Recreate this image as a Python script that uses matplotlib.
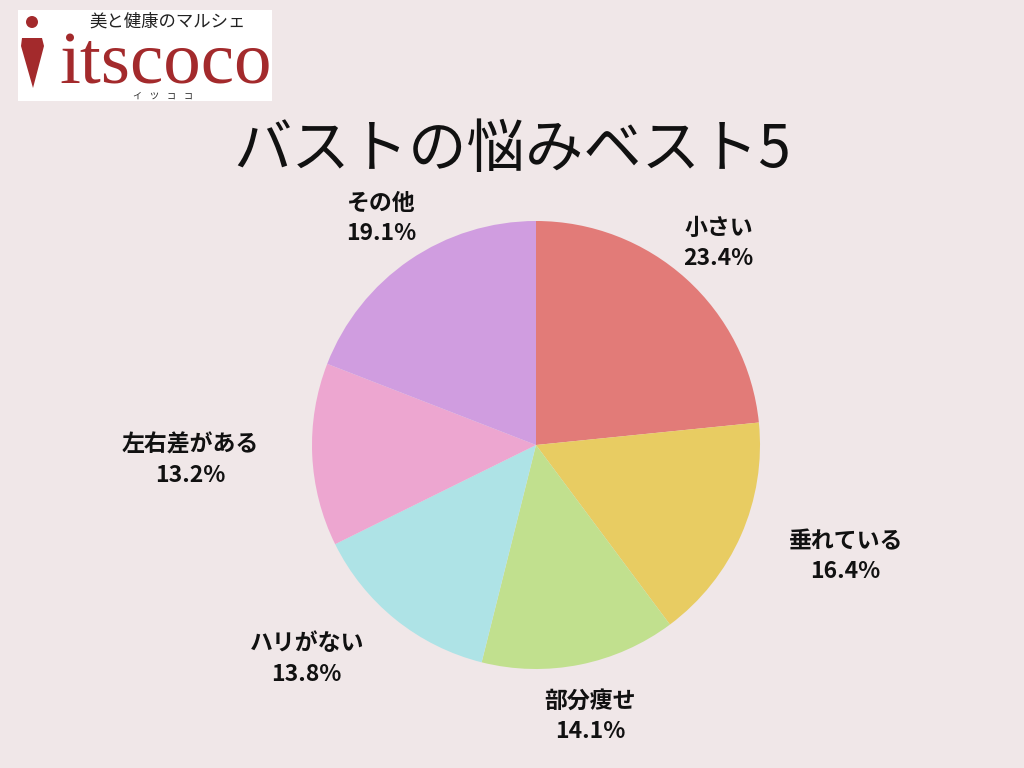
import matplotlib
matplotlib.use("Agg")
import numpy as np
import matplotlib.pyplot as plt
from matplotlib.patches import Rectangle, Ellipse, Polygon

plt.rcParams['font.family'] = ['Noto Sans CJK JP', 'DejaVu Sans']

# Data
labels = ["小さい", "垂れている", "部分痩せ", "ハリがない", "左右差がある", "その他"]
values = [23.4, 16.4, 14.1, 13.8, 13.2, 19.1]
colors = ["#E27B78", "#E8CC62", "#C1E08E", "#AEE3E6", "#EDA6D0", "#D09DE0"]
label_dist = [1.215, 1.47, 1.235, 1.40, 1.545, 1.225]
label_turn = [0, 3.9, 0, -8.1, 0, 0]
title = "バストの悩みベスト5"

bg = "#F0E7E8"
W, H = 1024, 768

fig = plt.figure(figsize=(10.24, 7.68), dpi=100)
fig.set_facecolor(bg)

# pie axes, center at (536, 445) px, radius 224 px
cx, cy, R = 536, 445, 224
ax = fig.add_axes([0, 0, 1, 1])
ax.set_facecolor(bg)

wedges, _ = ax.pie(values, colors=colors, startangle=90, counterclock=False,
                   radius=1, center=(0, 0), frame=True)
ax.set_xlim(-cx / R, (W - cx) / R)
ax.set_ylim(-(H - cy) / R, cy / R)
ax.axis("off")

for w, lab, v, d, t in zip(wedges, labels, values, label_dist, label_turn):
    ang = np.deg2rad((w.theta1 + w.theta2) / 2 + t)
    ax.text(d * np.cos(ang), d * np.sin(ang), f"{lab}\n{v}%",
            ha="center", va="center", fontsize=16.5, fontweight="bold",
            linespacing=1.4, color="#111111")

# title
fig.text(512 / W, 1 - 150 / H, title, ha="center", va="center",
         fontsize=42, color="#111111")

# logo
def px(x, y):
    return (x / W, 1 - y / H)

fig.patches.append(Rectangle(px(18, 101), 254 / W, 91 / H, transform=fig.transFigure,
                             facecolor="white", edgecolor="none"))
red = "#A32A2C"
fig.patches.append(Ellipse(px(32, 22), 12 / W, 12 / H, transform=fig.transFigure,
                           facecolor=red, edgecolor="none"))
fig.patches.append(Polygon([px(22, 38), px(42, 38), px(44, 46), px(33, 88), px(21, 46)],
                           closed=True, transform=fig.transFigure,
                           facecolor=red, edgecolor="none"))
fig.text(*px(168, 22), "美と健康のマルシェ", ha="center", va="center",
         fontsize=12.5, color="#222222", family=["Noto Sans CJK JP"])
fig.text(*px(166, 84), "itscoco", ha="center", va="baseline",
         fontsize=54, color=red, family=["Liberation Serif", "DejaVu Serif"])
fig.text(*px(163, 96), "イ    ツ    コ    コ", ha="center", va="center",
         fontsize=6.5, color="#222222", family=["Noto Sans CJK JP"])

fig.savefig("out.png", dpi=100, facecolor=bg)
